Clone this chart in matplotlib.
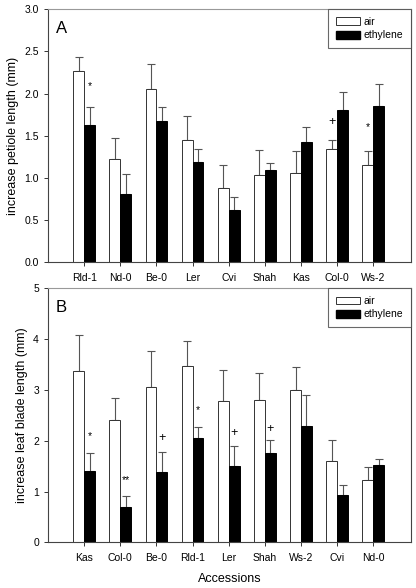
import matplotlib
matplotlib.use("Agg")
import matplotlib.pyplot as plt
import numpy as np
from matplotlib.patches import Patch

plt.rcParams['font.family'] = ['Liberation Sans', 'DejaVu Sans']

# Panel A data
cats_a = ["Rld-1", "Nd-0", "Be-0", "Ler", "Cvi", "Shah", "Kas", "Col-0", "Ws-2"]
air_a = [2.27, 1.23, 2.05, 1.45, 0.88, 1.03, 1.06, 1.34, 1.15]
air_a_err = [0.17, 0.24, 0.30, 0.28, 0.27, 0.30, 0.26, 0.11, 0.17]
eth_a = [1.63, 0.81, 1.68, 1.19, 0.62, 1.09, 1.43, 1.81, 1.85]
eth_a_err = [0.21, 0.24, 0.16, 0.15, 0.16, 0.09, 0.17, 0.21, 0.26]
# annotations: (category index, series, label, y)
ann_a = [(0, "eth", "*", 2.09), (7, "air", "+", 1.66), (8, "air", "*", 1.60)]

# Panel B data
cats_b = ["Kas", "Col-0", "Be-0", "Rld-1", "Ler", "Shah", "Ws-2", "Cvi", "Nd-0"]
air_b = [3.37, 2.40, 3.06, 3.48, 2.79, 2.80, 3.00, 1.60, 1.22]
air_b_err = [0.72, 0.45, 0.70, 0.48, 0.61, 0.53, 0.45, 0.42, 0.27]
eth_b = [1.40, 0.70, 1.39, 2.06, 1.51, 1.75, 2.29, 0.93, 1.52]
eth_b_err = [0.35, 0.22, 0.38, 0.21, 0.38, 0.27, 0.61, 0.19, 0.12]
ann_b = [(0, "eth", "*", 2.10), (1, "eth", "**", 1.23), (2, "eth", "+", 2.06),
         (3, "eth", "*", 2.60), (4, "eth", "+", 2.15), (5, "eth", "+", 2.23)]

fig = plt.figure(figsize=(4.16, 5.88), dpi=100)
axA = fig.add_axes([0.1154, 0.5539, 0.873, 0.4303])
axB = fig.add_axes([0.1154, 0.0777, 0.873, 0.432])

w = 0.3
edge = "#333333"
errc = "#555555"


def draw(ax, cats, air, air_err, eth, eth_err, ann, ylim, yticks, ylabels, ylabel, letter):
    x = np.arange(1, len(cats) + 1)
    ax.bar(x - w / 2, air, w, color="white", edgecolor=edge, linewidth=0.7, label="air", zorder=2)
    ax.bar(x + w / 2, eth, w, color="black", edgecolor="black", linewidth=0.7, label="ethylene", zorder=2)
    ax.errorbar(x - w / 2, air, yerr=[np.zeros(len(air)), air_err], fmt="none",
                ecolor=errc, elinewidth=0.8, capsize=3, capthick=0.8, zorder=1)
    ax.errorbar(x + w / 2, eth, yerr=[np.zeros(len(eth)), eth_err], fmt="none",
                ecolor=errc, elinewidth=0.8, capsize=3, capthick=0.8, zorder=1)
    for i, s, lab, yv in ann:
        xp = x[i] - w / 2 if s == "air" else x[i] + w / 2
        fs = 9 if lab == "+" else 7.5
        ax.text(xp, yv, lab, ha="center", va="center", fontsize=fs, color="black")
    ax.set_xlim(0, 10.05)
    ax.set_ylim(*ylim)
    ax.set_yticks(yticks)
    ax.set_yticklabels(ylabels)
    ax.set_xticks(x)
    ax.set_xticklabels(cats)
    ax.tick_params(axis="both", labelsize=7.5, direction="out", length=3, width=0.7, color="#333333")
    ax.tick_params(axis="x", pad=5)
    ax.set_ylabel(ylabel, fontsize=9, labelpad=4)
    for sp in ax.spines.values():
        sp.set_linewidth(0.8)
        sp.set_color("#444444")
    ax.spines["top"].set_color("#999999")
    ax.text(0.022, 0.955, letter, transform=ax.transAxes, fontsize=12, ha="left", va="top")
    handles = [Patch(facecolor="white", edgecolor=edge, linewidth=0.7, label="air"),
               Patch(facecolor="black", edgecolor="black", label="ethylene")]
    leg = ax.legend(handles=handles, loc="upper right", bbox_to_anchor=(1.0, 1.0),
                    fontsize=7.5, frameon=True, fancybox=False, handlelength=2.3,
                    handleheight=0.8, borderpad=0.75, labelspacing=0.3, handletextpad=0.4,
                    borderaxespad=0)
    leg.get_frame().set_edgecolor("#444444")
    leg.get_frame().set_linewidth(0.8)


draw(axA, cats_a, air_a, air_a_err, eth_a, eth_a_err, ann_a, (0, 3.0),
     [0, 0.5, 1.0, 1.5, 2.0, 2.5, 3.0], ["0.0", "0.5", "1.0", "1.5", "2.0", "2.5", "3.0"],
     "increase petiole length (mm)", "A")
draw(axB, cats_b, air_b, air_b_err, eth_b, eth_b_err, ann_b, (0, 5),
     [0, 1, 2, 3, 4, 5], ["0", "1", "2", "3", "4", "5"],
     "increase leaf blade length (mm)", "B")
axB.set_xlabel("Accessions", fontsize=9, labelpad=7)

fig.savefig("out.png", dpi=100)
